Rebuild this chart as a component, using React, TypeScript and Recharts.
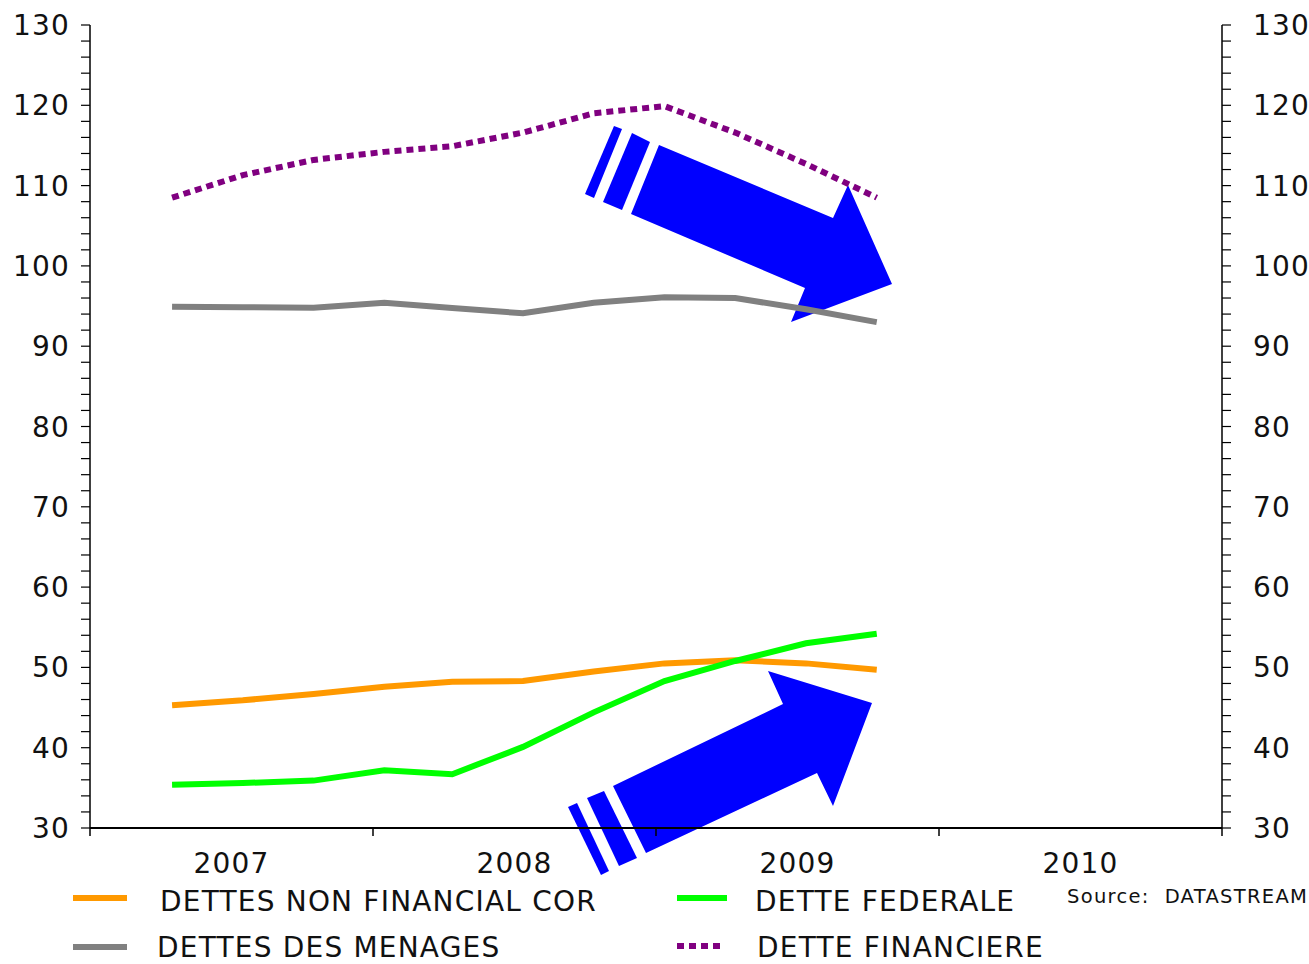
import { Line, LineChart, XAxis, YAxis } from "recharts";

// quarterly observation dates (fractional years)
const dates = [2007.29, 2007.54, 2007.79, 2008.04, 2008.28, 2008.53, 2008.78, 2009.03, 2009.28, 2009.53, 2009.78];

const detteFinanciere = [108.5, 111.3, 113.2, 114.2, 114.9, 116.6, 119.0, 119.9, 116.6, 112.7, 108.5];
const dettesMenages = [94.9, 94.85, 94.8, 95.4, 94.75, 94.1, 95.4, 96.1, 96.0, 94.6, 93.0];
const dettesNonFinancial = [45.3, 45.9, 46.7, 47.6, 48.2, 48.3, 49.5, 50.5, 50.9, 50.5, 49.7];
const detteFederale = [35.4, 35.6, 35.9, 37.2, 36.7, 40.1, 44.4, 48.3, 50.8, 53.0, 54.2];

const yearTicks = [2007, 2008, 2009, 2010, 2011];
const yearLabels = ["2007", "2008", "2009", "2010"];
const majorY = [30, 40, 50, 60, 70, 80, 90, 100, 110, 120, 130];

const COLORS = {
  orange: "#FF9900",
  green: "#00FF00",
  gray: "#808080",
  purple: "#800080",
  blue: "#0000FF",
};

const FONT = "'DejaVu Sans', Verdana, sans-serif";

const data = dates.map((t, i) => ({
  t,
  fin: detteFinanciere[i],
  men: dettesMenages[i],
  nfc: dettesNonFinancial[i],
  fed: detteFederale[i],
}));

// minor ticks every 2 units between the labelled ones
const yTicks: number[] = [];
for (let v = majorY[0]; v <= majorY[majorY.length - 1]; v += 2) yTicks.push(v);

const YEAR_WIDTH = (1222 - 90) / 4;

function YearTick(props: any) {
  const { x, y, payload } = props;
  const idx = yearTicks.indexOf(payload.value);
  if (idx < 0 || idx >= yearLabels.length) return null;
  return (
    <text x={x + YEAR_WIDTH / 2} y={y + 35} textAnchor="middle" fontFamily={FONT} fontSize={28} letterSpacing={1.2} fill="#111">
      {yearLabels[idx]}
    </text>
  );
}

function ValueTick(props: any) {
  const { x, y, payload, textAnchor } = props;
  if (payload.value % 10 !== 0) return null;
  return (
    <text x={x} y={y} dy={10} textAnchor={textAnchor} fontFamily={FONT} fontSize={28} letterSpacing={1.2} fill="#111">
      {payload.value}
    </text>
  );
}

function Arrows() {
  return (
    <svg width={1309} height={964} style={{ position: "absolute", left: 0, top: 0 }}>
      <g fill={COLORS.blue}>
        <polygon points="659,145 833,218 848,185 892,284 791,322 805,288 631,214" />
        <polygon points="632,133 650,142 622,210 603,202" />
        <polygon points="614,126 622,129 594,198 585,194" />
        <polygon points="646,853 613,786 783,704 768,671 872,703 833,806 817,773" />
        <polygon points="587,798 604,791 637,858 619,866" />
        <polygon points="568,807 577,803 609,871 601,875" />
      </g>
    </svg>
  );
}

const legendItems = [
  { label: "DETTES NON FINANCIAL COR", color: COLORS.orange, x1: 73, x2: 127, ly: 898, tx: 160, ty: 911, dash: undefined },
  { label: "DETTE FEDERALE", color: COLORS.green, x1: 677, x2: 727, ly: 898, tx: 755, ty: 911, dash: undefined },
  { label: "DETTES DES MENAGES", color: COLORS.gray, x1: 73, x2: 127, ly: 947, tx: 157, ty: 957, dash: undefined },
  { label: "DETTE FINANCIERE", color: COLORS.purple, x1: 677, x2: 722, ly: 946, tx: 757, ty: 957, dash: "7 5" },
];

function LegendLayer() {
  return (
    <svg width={1309} height={964} style={{ position: "absolute", left: 0, top: 0, pointerEvents: "none" }}>
      {legendItems.map((it) => (
        <g key={it.label}>
          <line x1={it.x1} x2={it.x2} y1={it.ly} y2={it.ly} stroke={it.color} strokeWidth={6} strokeDasharray={it.dash} />
          <text x={it.tx} y={it.ty} fontFamily={FONT} fontSize={28} letterSpacing={1.2} fill="#111">
            {it.label}
          </text>
        </g>
      ))}
      <text x={1067} y={903} fontFamily={FONT} fontSize={19.5} letterSpacing={1.3} fill="#111">
        {"Source:\u00a0 DATASTREAM"}
      </text>
    </svg>
  );
}

export default function App() {
  return (
    <div style={{ position: "absolute", left: 0, top: 0, width: 1309, height: 964, overflow: "hidden", background: "#fff" }}>
      <Arrows />
      <div style={{ position: "absolute", left: 0, top: 0 }}>
        <LineChart width={1309} height={964} data={data} margin={{ top: 25, right: 0, bottom: 96, left: 0 }}>
          <XAxis
            dataKey="t"
            type="number"
            domain={[2007, 2011]}
            ticks={yearTicks}
            interval={0}
            height={40}
            tickSize={8}
            axisLine={{ stroke: "#000", strokeWidth: 2 }}
            tickLine={{ stroke: "#000", strokeWidth: 1.5 }}
            tick={<YearTick />}
          />
          <YAxis
            yAxisId="left"
            orientation="left"
            domain={[30, 130]}
            ticks={yTicks}
            interval={0}
            width={90}
            tickSize={9}
            tickMargin={11}
            axisLine={{ stroke: "#000", strokeWidth: 1.5 }}
            tickLine={{ stroke: "#000", strokeWidth: 1.2 }}
            tick={<ValueTick />}
          />
          <YAxis
            yAxisId="right"
            orientation="right"
            domain={[30, 130]}
            ticks={yTicks}
            interval={0}
            width={87}
            tickSize={9}
            tickMargin={22}
            axisLine={{ stroke: "#000", strokeWidth: 1.5 }}
            tickLine={{ stroke: "#000", strokeWidth: 1.2 }}
            tick={<ValueTick />}
          />
          <Line yAxisId="left" type="linear" dataKey="men" stroke={COLORS.gray} strokeWidth={6} dot={false} isAnimationActive={false} />
          <Line yAxisId="left" type="linear" dataKey="fin" stroke={COLORS.purple} strokeWidth={6} strokeDasharray="7 5" dot={false} isAnimationActive={false} />
          <Line yAxisId="right" type="linear" dataKey="nfc" stroke={COLORS.orange} strokeWidth={6} dot={false} isAnimationActive={false} />
          <Line yAxisId="right" type="linear" dataKey="fed" stroke={COLORS.green} strokeWidth={6} dot={false} isAnimationActive={false} />
        </LineChart>
      </div>
      <LegendLayer />
    </div>
  );
}
